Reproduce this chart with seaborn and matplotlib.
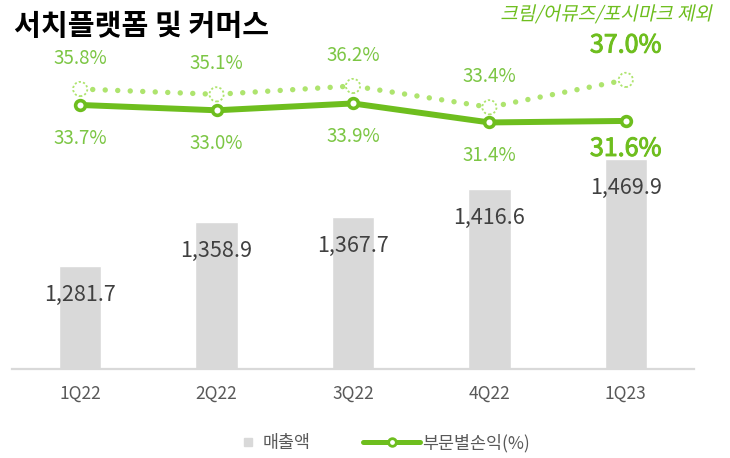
import numpy as np
import matplotlib
matplotlib.use("Agg")
import matplotlib.pyplot as plt
import matplotlib.patheffects as pe
from matplotlib.transforms import Affine2D
from matplotlib.lines import Line2D
import seaborn as sns

# ============================================
# Data
# ============================================
quarters = ["1Q22", "2Q22", "3Q22", "4Q22", "1Q23"]
sales = [1281.7, 1358.9, 1367.7, 1416.6, 1469.9]          # 매출액
margin = [33.7, 33.0, 33.9, 31.4, 31.6]                   # 부문별손익(%)
margin_ex = [35.8, 35.1, 36.2, 33.4, 37.0]                # 크림/어뮤즈/포시마크 제외

GREEN = "#6ebe1e"
LIGHT = "#aee46e"
LABEL_GREEN = "#7cc644"
BAR = "#d9d9d9"
DARK = "#404040"
GRAY = "#595959"

sns.set_style("white")
plt.rcParams["font.family"] = ["Noto Sans CJK KR", "DejaVu Sans"]


class Skew(pe.AbstractPathEffect):
    # fake italic for fonts without an italic face
    def __init__(self, deg=12):
        super().__init__()
        self.deg = deg

    def draw_path(self, renderer, gc, tpath, affine, rgbFace=None):
        m = affine.get_matrix()
        tx, ty = m[0, 2], m[1, 2]
        sk = Affine2D().translate(-tx, -ty).skew_deg(self.deg, 0).translate(tx, ty)
        renderer.draw_path(gc, tpath, affine + sk, rgbFace)


fig = plt.figure(figsize=(7.3, 4.58), dpi=100)
ax = fig.add_axes([12 / 730, 1 - 369 / 458, 682 / 730, 349 / 458])

# ============================================
# Bars
# ============================================
sns.barplot(x=quarters, y=sales, ax=ax, color=BAR, width=0.31, saturation=1)
ax.set_xlim(-0.5, 4.5)
ax.set_ylim(1100.6, 1714.4)
ax.set_yticks([])
ax.set_xlabel("")
ax.set_ylabel("")
for s in ["top", "left", "right"]:
    ax.spines[s].set_visible(False)
ax.spines["bottom"].set_color(BAR)
ax.spines["bottom"].set_linewidth(1.6)
ax.tick_params(axis="x", length=0, pad=11, labelsize=12.5, labelcolor=GRAY)

for i, v in enumerate(sales):
    ax.annotate(f"{v:,.1f}", (i, v), xytext=(0, -25.2), textcoords="offset points",
                ha="center", va="baseline", fontsize=15.5, color=DARK, fontweight="light")

# ============================================
# Lines
# ============================================
ax2 = ax.twinx()
sns.lineplot(x=quarters, y=margin_ex, ax=ax2, color=LIGHT, lw=3.9, sort=False,
             linestyle=(0, (0.01, 2.3)), dash_capstyle="round", zorder=2)
ax2.scatter(quarters, margin_ex, s=105, facecolors="white", edgecolors=LIGHT,
            linewidths=1.3, linestyle=(0, (1.2, 1.2)), zorder=3)
sns.lineplot(x=quarters, y=margin, ax=ax2, color=GREEN, lw=4.3, sort=False,
             marker="o", markersize=7, markerfacecolor="white",
             markeredgecolor=GREEN, markeredgewidth=2.6, zorder=4)
ax2.set_ylim(-1.04, 44.88)
ax2.set_axis_off()

# latest quarter labels: larger and a little heavier
heavy = [pe.withStroke(linewidth=0.7, foreground=GREEN)]

for i, v in enumerate(margin_ex):
    last = i == len(margin_ex) - 1
    a = ax2.annotate(f"{v:.1f}%", (i, v), xytext=(0, 19.7 if last else 18),
                     textcoords="offset points", ha="center", va="baseline",
                     fontsize=18 if last else 13.5, color=GREEN if last else LABEL_GREEN)
    if last:
        a.set_path_effects(heavy)
for i, v in enumerate(margin):
    last = i == len(margin) - 1
    a = ax2.annotate(f"{v:.1f}%", (i, v), xytext=(0, -25.2 if last else -28),
                     textcoords="offset points", ha="center", va="baseline",
                     fontsize=18 if last else 13.5, color=GREEN if last else LABEL_GREEN,
                     zorder=5)
    if last:
        a.set_path_effects(heavy)

# ============================================
# Titles
# ============================================
fig.text(14 / 730, 1 - 25.5 / 458, "서치플랫폼 및 커머스", fontsize=21, fontweight="bold",
         color="black", ha="left", va="center")
t = fig.text(712 / 730, 1 - 14.5 / 458, "크림/어뮤즈/포시마크 제외", fontsize=13.7,
             color=GREEN, ha="right", va="center")
t.set_path_effects([Skew(12)])

# ============================================
# Legend
# ============================================
h1 = Line2D([], [], marker="s", color=BAR, linestyle="none", markersize=6)
h2 = Line2D([], [], color=GREEN, lw=3.6, marker="o", markersize=5.5,
            markerfacecolor="white", markeredgecolor=GREEN, markeredgewidth=2)
fig.legend([h1], ["매출액"], loc="center left", bbox_to_anchor=(241 / 730, 1 - 443 / 458),
           frameon=False, handlelength=0.8, handletextpad=0.45, borderpad=0,
           borderaxespad=0, fontsize=12.5, labelcolor=GRAY)
fig.legend([h2], ["부문별손익(%)"], loc="center left", bbox_to_anchor=(363 / 730, 1 - 443 / 458),
           frameon=False, handlelength=3.3, handletextpad=0.1, borderpad=0,
           borderaxespad=0, fontsize=12.5, labelcolor=GRAY)

plt.savefig("out.png", dpi=100)
plt.close()
